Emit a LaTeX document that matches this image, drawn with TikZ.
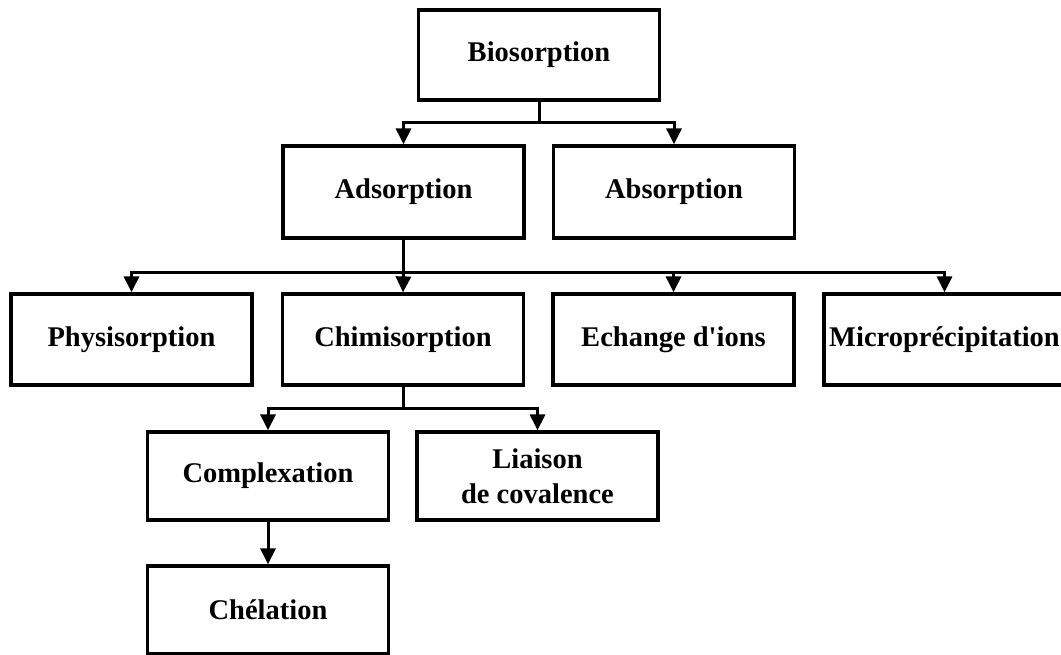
\documentclass[tikz,border=0pt]{standalone}
\usepackage{fontspec}
\setmainfont{Liberation Serif}[Ligatures=TeXOff]
\usetikzlibrary{arrows.meta}
\begin{document}
\begin{tikzpicture}[x=1pt,y=-1pt,
  box/.style={draw=black, line width=3.2pt, rectangle, inner sep=0pt,
    minimum width=241pt, minimum height=90pt, align=center,
    font=\fontsize{28.5}{35}\selectfont\bfseries},
  link/.style={draw=black, line width=3pt},
  arr/.style={link, -{Triangle[width=15pt,length=16pt]}}]
\clip (0,0) rectangle (1061,655);
\fill[white] (0,0) rectangle (1061,655);

% boxes
\node[box] (bio)  at (539,55)    {Biosorption};
\node[box, minimum height=92pt] (ads)  at (403.5,192) {Adsorption};
\node[box, minimum height=92pt] (abs)  at (674,192)   {Absorption};
\node[box, minimum height=91pt] (phys) at (131.5,339.5) {Physisorption};
\node[box, minimum height=91pt] (chim) at (403,339.5) {Chimisorption};
\node[box, minimum height=91pt] (ech)  at (673.5,339.5) {Echange d'ions};
\node[box, minimum height=91pt] (micro) at (944.5,339.5) {Microprécipitation};
\node[box, minimum height=88pt] (comp) at (268,476)   {Complexation};
\node[box, minimum height=88pt] (liai) at (537.5,476) {Liaison\\de covalence};
\node[box, minimum height=88pt] (chel) at (268,610)   {Chélation};

% branch points
\coordinate (j1) at (539,123);
\coordinate (j2) at (403.5,273);
\coordinate (j3) at (403,408);

% connectors
\draw[link] (bio.south) -- (j1);
\draw[arr] (j1) -| (ads.north);
\draw[arr] (j1) -| (abs.north);

\draw[link] (ads.south) -- (j2);
\draw[arr] (j2) -| (phys.north);
\draw[arr] (j2) -- (chim.north);
\draw[arr] (j2) -| (ech.north);
\draw[arr] (j2) -| (micro.north);

\draw[link] (chim.south) -- (j3);
\draw[arr] (j3) -| (comp.north);
\draw[arr] (j3) -| (liai.north);

\draw[arr] (comp.south) -- (chel.north);
\end{tikzpicture}
\end{document}
